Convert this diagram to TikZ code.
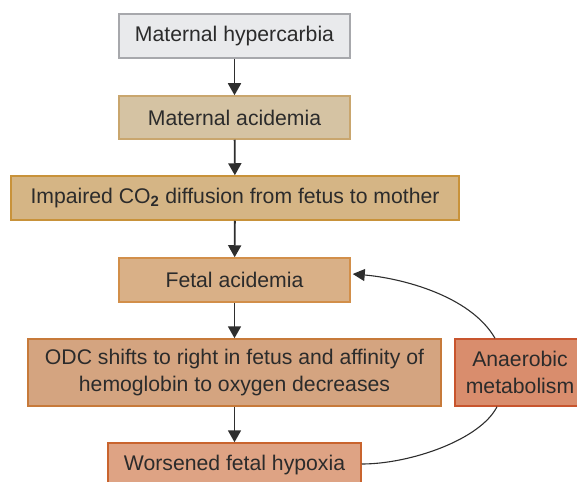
\documentclass[tikz,border=0pt]{standalone}
\usepackage{fontspec}
\setmainfont{Liberation Sans}
\usepackage{tikz}
\usetikzlibrary{arrows.meta}
\definecolor{hyperfill}{HTML}{E9EAEC}
\definecolor{hyperline}{HTML}{A7A8AC}
\definecolor{matfill}{HTML}{D5C3A3}
\definecolor{matline}{HTML}{C9A66E}
\definecolor{impfill}{HTML}{D5B585}
\definecolor{impline}{HTML}{C8923A}
\definecolor{fetfill}{HTML}{D9B087}
\definecolor{fetline}{HTML}{D28F4A}
\definecolor{odcfill}{HTML}{D4A480}
\definecolor{odcline}{HTML}{C77A3A}
\definecolor{worfill}{HTML}{DEA384}
\definecolor{worline}{HTML}{C9642E}
\definecolor{anafill}{HTML}{D98D6D}
\definecolor{analine}{HTML}{C8552E}
\definecolor{textgray}{HTML}{2B2B2B}
\definecolor{linegray}{HTML}{2E2E2E}

\begin{document}
\begin{tikzpicture}[x=1pt,y=-1pt,
  box/.style={draw,line width=1.5pt,inner sep=0pt,align=center,text=textgray,
    font=\fontsize{21.2}{27}\selectfont},
  flow/.style={line width=1.8pt,draw=linegray,-{Triangle[length=12pt,width=13pt]}},
  loopback/.style={line width=1.1pt,draw=linegray}]
\clip (0,0) rectangle (577,481);
\node[box,fill=hyperfill,draw=hyperline,minimum width=231pt,minimum height=44pt] (hyper) at (234.5,36) {Maternal hypercarbia};
\node[box,fill=matfill,draw=matline,minimum width=231pt,minimum height=43pt] (matacid) at (234.5,117.5) {Maternal acidemia};
\node[box,fill=impfill,draw=impline,minimum width=448pt,minimum height=44pt] (impaired) at (235,198) {Impaired CO\textsubscript{\textbf{2}} diffusion from fetus to mother};
\node[box,fill=fetfill,draw=fetline,minimum width=231pt,minimum height=44pt] (fetacid) at (234.5,280) {Fetal acidemia};
\node[box,fill=odcfill,draw=odcline,minimum width=413pt,minimum height=67pt] (odc) at (234.5,372.5) {ODC shifts to right in fetus and affinity of\\hemoglobin to oxygen decreases};
\node[box,fill=worfill,draw=worline,minimum width=253pt,minimum height=44pt] (worse) at (234.5,465) {Worsened fetal hypoxia};
\node[box,fill=anafill,draw=analine,minimum width=130pt,minimum height=67pt] (anaer) at (520,372.5) {Anaerobic\\metabolism};
\draw[flow] (hyper) -- (matacid);
\draw[flow] (matacid) -- (impaired);
\draw[flow] (impaired) -- (fetacid);
\draw[flow] (fetacid) -- (odc);
\draw[flow] (odc) -- (worse);
\draw[loopback,-{Triangle[length=12pt,width=12pt]}] ([xshift=-25pt]anaer.north) .. controls (470,295) and (400,278) .. ([xshift=2pt,yshift=6pt]fetacid.east);
\draw[loopback] ([xshift=-23pt]anaer.south) .. controls (480,440) and (410,464) .. ([yshift=1pt]worse.east);
\end{tikzpicture}
\end{document}
